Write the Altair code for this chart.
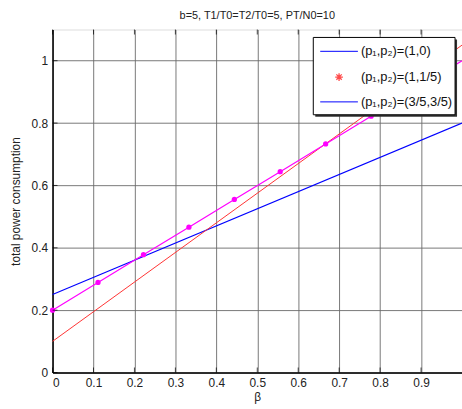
import altair as alt
import pandas as pd

# data
beta_line = [0.0, 1.0]
blue_vals = [0.25, 0.80]
red_vals = [0.10, 1.05]
beta_pts = [0.0, 0.111, 0.222, 0.333, 0.444, 0.556, 0.667, 0.778, 0.889, 1.0]
magenta_vals = [0.200, 0.289, 0.378, 0.466, 0.555, 0.644, 0.733, 0.822, 0.911, 1.000]

x_ticks = [0.0, 0.1, 0.2, 0.3, 0.4, 0.5, 0.6, 0.7, 0.8, 0.9]
y_ticks = [0.0, 0.2, 0.4, 0.6, 0.8, 1.0]
legend_labels = ["(p\u2081,p\u2082)=(1,0)", "(p\u2081,p\u2082)=(1,1/5)", "(p\u2081,p\u2082)=(3/5,3/5)"]
title_text = "b=5, T1/T0=T2/T0=5, PT/N0=10"

W, H = 413, 346
FONT = "Liberation Sans"

xs = alt.Scale(domain=[0, 1], nice=False, zero=False)
ys = alt.Scale(domain=[0, 1.1], nice=False, zero=False)

blue_df = pd.DataFrame({"beta": beta_line, "val": blue_vals})
red_df = pd.DataFrame({"beta": beta_line, "val": red_vals})
mag_df = pd.DataFrame({"beta": beta_pts, "val": magenta_vals})
xt_df = pd.DataFrame({"v": x_ticks})
yt_df = pd.DataFrame({"v": y_ticks})
one = pd.DataFrame({"a": [0]})

x_axis = alt.Axis(values=x_ticks, format=".1~f", title="β", grid=True,
                  gridColor="#6a6a6a", gridOpacity=0.9, ticks=False,
                  domainColor="black", domainWidth=1.5,
                  labelFont=FONT, labelFontSize=12, labelColor="#222",
                  labelPadding=5, titleFont=FONT, titleFontSize=12,
                  titleFontWeight="normal", titleColor="#222", titlePadding=3)
y_axis = alt.Axis(values=y_ticks, format=".1~f", title="total power consumption",
                  grid=True, gridColor="#6a6a6a", gridOpacity=0.9, ticks=False,
                  domainColor="black", domainWidth=1.5,
                  labelFont=FONT, labelFontSize=12, labelColor="#222",
                  labelPadding=5, titleFont=FONT, titleFontSize=12,
                  titleFontWeight="normal", titleColor="#222", titlePadding=9)

base_blue = alt.Chart(blue_df).mark_line(color="#0000ff", strokeWidth=1.1).encode(
    x=alt.X("beta:Q", scale=xs, axis=x_axis),
    y=alt.Y("val:Q", scale=ys, axis=y_axis),
)
red = alt.Chart(red_df).mark_line(color="#ff3333", strokeWidth=1).encode(
    x=alt.X("beta:Q", scale=xs), y=alt.Y("val:Q", scale=ys))
mag_line = alt.Chart(mag_df).mark_line(color="#ff00ff", strokeWidth=1.2).encode(
    x=alt.X("beta:Q", scale=xs), y=alt.Y("val:Q", scale=ys))
mag_pts = alt.Chart(mag_df).transform_filter("datum.beta < 0.95").mark_point(
    color="#ff00ff", filled=True, opacity=1, size=28, shape="circle").encode(
    x=alt.X("beta:Q", scale=xs), y=alt.Y("val:Q", scale=ys))

# inward ticks
xt_bot = alt.Chart(xt_df).mark_tick(color="black", size=5, thickness=1).encode(
    x=alt.X("v:Q", scale=xs), y=alt.value(H - 2.5))
xt_top = alt.Chart(xt_df).mark_tick(color="black", size=5, thickness=1).encode(
    x=alt.X("v:Q", scale=xs), y=alt.value(2.5))
yt_left = alt.Chart(yt_df).mark_tick(color="black", size=5, thickness=1).encode(
    y=alt.Y("v:Q", scale=ys), x=alt.value(2.5))

# legend box
lx0, lx1, ly0, ly1 = 263, 406, 8, 86
shadow = alt.Chart(one).mark_rect(color="#333").encode(
    x=alt.value(lx0 + 2), x2=alt.value(lx1 + 2), y=alt.value(ly0 + 2), y2=alt.value(ly1 + 2))
box = alt.Chart(one).mark_rect(fill="white", stroke="black", strokeWidth=1).encode(
    x=alt.value(lx0), x2=alt.value(lx1), y=alt.value(ly0), y2=alt.value(ly1))
rows = [22, 48, 73]
leg_line1 = alt.Chart(one).mark_rule(color="#0000ff", strokeWidth=1).encode(
    x=alt.value(270), x2=alt.value(308), y=alt.value(rows[0]))
leg_star = alt.Chart(one).mark_point(
    shape="M-1,0L1,0M0,-1L0,1M-0.7,-0.7L0.7,0.7M-0.7,0.7L0.7,-0.7",
    color="#ff0000", strokeWidth=1.3, size=60).encode(x=alt.value(289), y=alt.value(rows[1]))
leg_line3 = alt.Chart(one).mark_rule(color="#0000ff", strokeWidth=1).encode(
    x=alt.value(270), x2=alt.value(308), y=alt.value(rows[2]))
leg_texts = [
    alt.Chart(one).mark_text(align="left", baseline="middle", font=FONT, fontSize=13, color="#111").encode(
        x=alt.value(311), y=alt.value(r), text=alt.value(t))
    for r, t in zip(rows, legend_labels)
]

chart = alt.layer(
    base_blue, red, mag_line, mag_pts, xt_bot, xt_top, yt_left,
    shadow, box, leg_line1, leg_star, leg_line3, *leg_texts
).properties(
    width=W, height=H,
    title=alt.TitleParams(title_text, font=FONT, fontSize=11, fontWeight="normal",
                          color="#222", offset=9, anchor="middle"),
    autosize=alt.AutoSizeParams(type="none"),
    padding={"left": 53, "top": 28, "right": 0, "bottom": 35},
).configure_view(stroke=None).configure(background="white")

chart.save("out.html", embed_options={"renderer": "svg", "actions": False})
